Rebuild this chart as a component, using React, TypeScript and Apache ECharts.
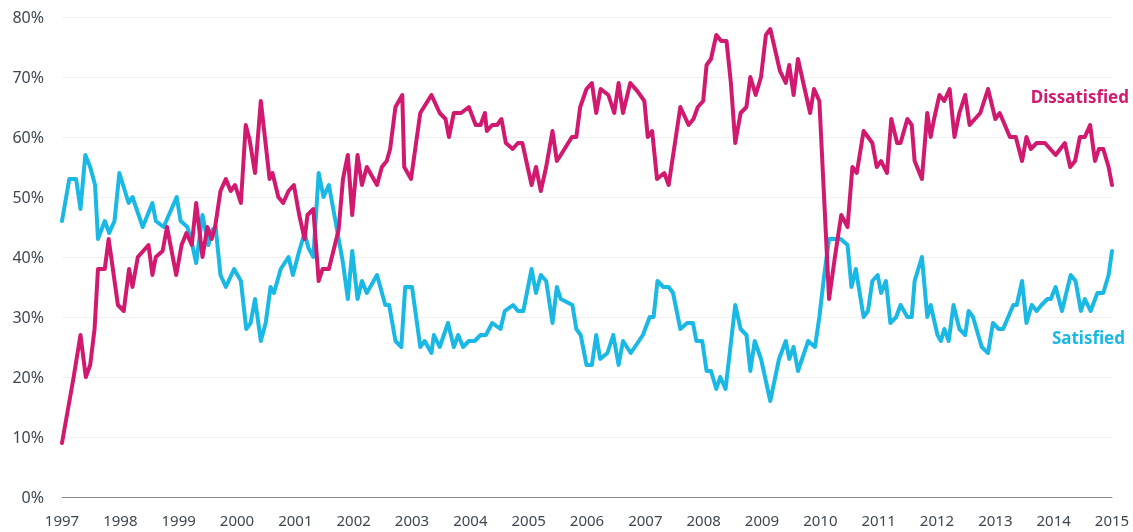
import React, { useEffect, useRef } from "react";
import * as echarts from "echarts";

// x positions: months since Jan 1997
const satMonths = [0,1.5,2.9,3.8,4.8,5.8,6.8,7.4,8.8,9.7,10.8,11.8,13.7,14.5,16.6,18.6,19.3,20.9,23.6,24.4,25.8,26.8,27.6,28.9,30.1,30.9,31.6,32.6,33.7,35.4,36.8,37.9,38.8,39.7,40.9,41.9,42.9,43.6,45,46.6,47.5,48.8,49.9,50.7,51.7,52.8,53.8,54.9,56.7,57.8,58.8,59.7,60.8,61.7,62.7,64.8,66.5,67.3,68.6,69.8,70.6,72,73.7,74.6,76,76.5,77.7,79.4,80.6,81.5,82.5,83.7,84.9,86.1,87.2,88.5,90.2,91.1,92.8,93.8,94.9,96.6,97.5,98.5,99.6,100.9,101.8,102.6,105,105.8,106.7,107.9,109,109.9,110.7,112.2,113.4,114.5,115.4,117,119.5,120.9,121.7,122.5,123.7,124.8,125.7,127.2,128.6,129.8,130.5,131.7,132.6,133.5,134.6,135.4,136.5,137.5,138.5,139.6,140.8,141.6,142.5,143.8,145.7,147.5,148.9,149.6,150.5,151.4,153.5,154.9,155.8,156.8,157.8,160.2,161.6,162.4,163.3,164.9,165.8,166.7,167.8,168.5,169.5,170.4,171.6,172.5,173.9,174.8,175.4,176.9,178,178.7,180.1,180.8,181.5,182.4,183.4,184.6,185.8,186.5,187.4,189.2,190.5,191.5,192.7,193.6,195.7,196.4,197.5,198.4,199.5,200.5,201.5,202.7,203.4,204.4,205.7,207.5,208.5,209.6,210.4,211.6,213,214.2,215.3,216];
const satValues = [46,53,53,48,57,55,52,43,46,44,46,54,49,50,45,49,46,45,50,46,45,42,39,47,42,44.5,45,37,35,38,36,28,29,33,26,29,35,34,38,40,37,41,44,41.5,40,54,50,52,44,39,33,41,33,36,34,37,32,32,26,25,35,35,25,26,24,27,25,29,25,27,25,26,26,27,27,29,28,31,32,31,31,38,34,37,36,29,35,33,32,28,27,22,22,27,23,24,27,22,26,24,27,30,30,36,35,35,34,28,29,29,26,26,21,21,18,20,18,25,32,28,27,21,26,23,16,23,26,23,25,21,26,25,30,37,43,43,42,35,38,30,31,36,37,34,36,29,30,32,30,30,36,40,30,32,27,26,28,26,32,28,27,31,30,25,24,29,28,28,32,32,36,29,32,31,32,33,33,35,31,37,36,31,33,31,34,34,37,41];

const dissMonths = [0,2.4,3.8,4.9,5.8,6.7,7.4,8.8,9.6,11.5,12.7,13.8,14.5,15.6,17.8,18.6,19.3,20.7,21.6,23.5,24.6,25.6,26.7,27.6,28.9,29.9,30.8,31.5,32.6,33.7,34.7,35.6,36.8,37.8,38.6,39.7,40.9,42.7,43.3,44.5,45.5,46.6,47.7,48.8,49.9,50.5,51.7,52.8,53.6,54.9,56.9,57.8,58.8,59.7,60.8,61.7,62.7,64.8,65.8,66.8,67.5,68.6,70,70.4,71.8,73.7,76,77.7,78.9,79.6,80.6,82.1,83.7,85.1,86.1,87,87.4,88.5,89.5,90.4,91.3,92.7,93.8,94.7,96.6,97.5,98.5,99.6,100.9,101.8,102.6,104.9,105.8,106.6,107.9,109,109.9,110.8,112.4,113.6,114.5,115.4,116.9,118.4,119.8,120.5,121.4,122.4,123.9,124.8,127.2,128.9,129.9,130.8,131.9,132.6,133.5,134.6,135.6,136.7,137.6,138.5,139.6,140.8,141.6,142.7,143.8,144.8,145.7,147.7,148.9,149.6,150.5,151.4,152.5,153.9,154.7,155.8,157.8,159,160.3,161.6,162.6,163.5,164.9,166.7,167.6,168.5,169.7,170.6,171.8,172.5,173.9,174.8,175.4,176.9,178,178.7,179.4,180.5,181.5,182.6,183.6,184.6,185.8,186.7,188.9,190.5,192,192.9,195,196.2,197.5,198.4,199.3,200.5,202.2,204.4,206.3,207.4,208.4,209.4,210.4,211.5,212.5,213.3,214.2,215.3,216];
const dissValues = [9,20,27,20,22,28,38,38,43,32,31,38,35,40,42,37,40,41,45,37,42,44,42,49,40,45,43,45,51,53,51,52,49,62,59.5,54,66,53,54,50,49,51,52,47,43,47,48,36,38,38,44.5,53,57,47,57,52,55,52,55,56,58,65,67,55,53,64,67,64,63,60,64,64,65,62,62,64,61,62,62,63,59,58,59,59,52,55,51,55,61,56,57,60,60,65,68,69,64,68,67,64,69,64,69,67.6,66,60,61,53,54,52,65,62,63,65,66,72,73,77,76,76,69,59,64,65,70,67,70,77,78,71,69,72,67,73,69,64,68,66,33,40,47,45,55,54,61,59,55,56,54,63,59,59,63,62,56,53,64,60,63,67,66,68,60,64,67,62,64,68,63,64,60,60,56,60,58,59,59,57,59,55,56,60,60,62,56,58,58,55,52];

const yearTicks = [1997, 2015];
const yTicks = [0, 80, 10];

const DISS_COLOR = "#d0196f";
const SAT_COLOR = "#1ab8e4";

const toPairs = (months: number[], values: number[]) =>
  months.map((m, i) => [yearTicks[0] + m / 12, values[i]]);

export default function App() {
  const ref = useRef<HTMLDivElement>(null);
  useEffect(() => {
    if (!ref.current) return;
    const chart = echarts.init(ref.current, null, { renderer: "svg" });
    chart.setOption({
      animation: false,
      grid: { left: 62, right: 21, top: 17, bottom: 35 },
      xAxis: {
        type: "value",
        min: yearTicks[0],
        max: yearTicks[1],
        interval: 1,
        axisLine: { show: true, lineStyle: { color: "#8c8c8c", width: 1 } },
        axisTick: { show: false },
        splitLine: { show: false },
        axisLabel: {
          formatter: (v: number) => String(v),
          fontFamily: "Noto Sans",
          fontSize: 15,
          color: "#3d4752",
          margin: 15,
        },
      },
      yAxis: {
        type: "value",
        min: yTicks[0],
        max: yTicks[1],
        interval: yTicks[2],
        axisLine: { show: false },
        axisTick: { show: false },
        splitLine: { lineStyle: { color: "#f0f0f0", width: 1 } },
        axisLabel: {
          formatter: "{value}%",
          fontFamily: "Noto Sans",
          fontSize: 16,
          color: "#3d4752",
          margin: 18,
        },
      },
      series: [
        {
          name: "Satisfied",
          type: "line",
          data: toPairs(satMonths, satValues),
          showSymbol: false,
          lineStyle: { color: SAT_COLOR, width: 4, join: "round", cap: "round" },
          itemStyle: { color: SAT_COLOR },
        },
        {
          name: "Dissatisfied",
          type: "line",
          data: toPairs(dissMonths, dissValues),
          showSymbol: false,
          lineStyle: { color: DISS_COLOR, width: 4, join: "round", cap: "round" },
          itemStyle: { color: DISS_COLOR },
        },
      ],
      graphic: [
        {
          type: "text",
          right: 4,
          top: 88,
          style: {
            text: "Dissatisfied",
            fill: DISS_COLOR,
            font: "bold 17px 'Noto Sans'",
          },
        },
        {
          type: "text",
          right: 8,
          top: 329,
          style: {
            text: "Satisfied",
            fill: SAT_COLOR,
            font: "bold 17px 'Noto Sans'",
          },
        },
      ],
    });
    return () => chart.dispose();
  }, []);
  return (
    <div
      ref={ref}
      style={{ position: "fixed", left: 0, top: 0, width: 1133, height: 532 }}
    />
  );
}
